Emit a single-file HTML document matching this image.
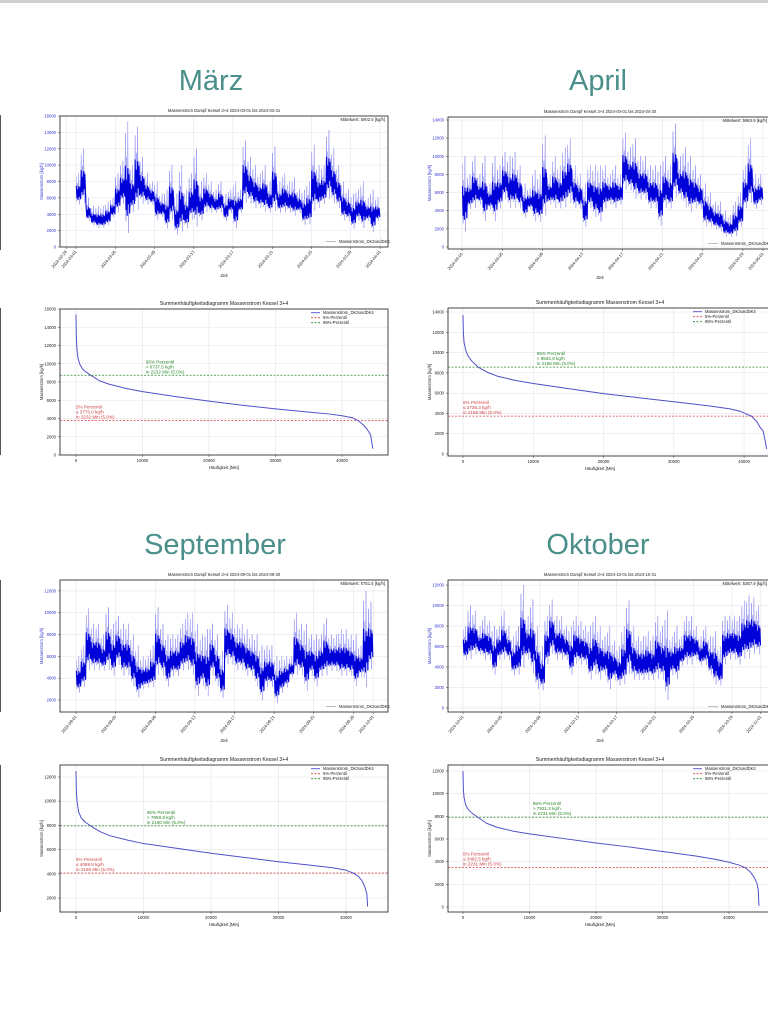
<!DOCTYPE html>
<html><head><meta charset="utf-8">
<style>
html,body{margin:0;padding:0;background:#fff;width:768px;height:1031px;overflow:hidden}
svg{display:block;font-family:"Liberation Sans",sans-serif}
</style></head>
<body>
<svg id="root" width="768" height="1031" viewBox="0 0 768 1031">
<rect x="0" y="0" width="768" height="3" fill="#cfcfcf"/>
<g fill="#4a8f8a" font-size="29" text-anchor="middle">
<text x="211" y="90">März</text>
<text x="598" y="90">April</text>
<text x="215" y="554">September</text>
<text x="598" y="554">Oktober</text>
</g>
<g stroke="#555" stroke-width="1">
<line x1="0.5" y1="115" x2="0.5" y2="250"/>
<line x1="0.5" y1="308" x2="0.5" y2="455"/>
<line x1="0.5" y1="580" x2="0.5" y2="712"/>
<line x1="0.5" y1="765" x2="0.5" y2="912"/>
</g>
</svg>
<script>
// ---- time series data (half-day bins, thousands kg/h) ----
const marHi=[9,12,6,5,5,5,5.5,6,9,10.5,15.3,10,14.7,11,9,8,8,6.5,7,10,6.5,10,7,9,12,8,9,8,7,8,6.5,7,8,7,13,11,10,9,10,8,12.3,8,9,8,8.5,7,7,8,12.5,10,10,14.3,12,10,8,7,6.5,7,8,6,7,6];
const marLo=[5,5,3,2.5,2.2,2.2,2.5,3.5,4,5,1,4,4,5,5,5,3,3.5,2,3,1.3,1.5,2,3,2,3,4,4,4,4,3,4,2,4,5,5,4.5,4.5,4,4,4,4,4,4,3.5,4,2.5,2.5,4,4.5,5,5.5,5,4.5,3,3,2,3,2,3,1.5,3];
const aprHi=[10,8,10,8,10,7,10,9,10.5,10,10.5,9,7,6.5,8.5,8,12.3,8,10,9,11,12,9,8,7,9,9,9,9,8,9,8,12.6,11,12,10,10,9,9,9,10,9,13.6,10,11,10,9,8,7,6,5,5,4,3.5,5,6,9,12,8,8];
const aprLo=[1.3,4,4,4.5,2.5,4,2.5,4,5,4,4,4,3,4,2.5,2.5,3,4.5,4,4,4,4.5,4,4,2,4,3,2.5,4,4.5,4,4.5,6,6,5,5,5,4,4,2,4,4,5,5,4,3.5,4,4,2,2,1.8,1.5,1,1,1,2,4,4.5,4,4.5];
const sepHi=[6,7,10.4,9,9,8,10.5,9,9.7,9,9,8,7,6,6,7,10.5,9,8,8,8,9,10,10,9,8,8.5,9,8,6.5,10.7,10,9,9,8.5,8,8,7,7,7,6,6,6,6,10,9,9,8,8,8,9.5,8,8,8.5,8.5,8,8,7,12,11];
const sepLo=[2.5,3,4.5,4.5,4.5,4.5,4.5,4,5,4,4,3,2,2.8,3,3,4,4,3,4,4,4.5,4.5,4,2,3,2,4,3,2,5,5,4.5,4.5,4,4,3,1.7,3,3,1.5,2.5,3,4,4,4,2.5,4,3,4,4,4.5,4.5,4,4,4,3,4,2.7,4.5];
const octHi=[8,10,9.5,8,9,8.5,8,8,9.5,8,7,8,12,9,10.6,8,6,9,10.6,9,9,8,8,9,8.5,8,8,9,8,7,8,6.5,6,8,10.5,8,7,7,7.5,7,9,8,9.5,7,8,7,9,9,8,7,8,7,7.5,6,9,9,9,9,10.5,11,10.8,10];
const octLo=[4.5,4.5,5,5,4.5,4.5,3,4.5,4.5,4.5,3,3,3.5,4.5,3,1.5,1.5,4,5,4.5,4.5,4.5,3,4,4,4,2.5,3,2.5,3,1.5,2.5,2,2,3,2.5,2.5,2.5,2.5,2.5,2.5,2.5,0.3,3,2.5,4,4,4,4.5,4,4,3,2,2,4,4.5,4.5,4,4.5,4.5,5,5];
const marMean="5902.5", aprMean="5963.9", sepMean="5751.5", octMean="5367.9";
const marDates=["2024-02-29","2024-03-01","2024-03-05","2024-03-09","2024-03-13","2024-03-17","2024-03-21","2024-03-25","2024-03-29","2024-04-01"];
const marDateDays=[-1,0,4,8,12,16,20,24,28,31];
const aprDates=["2024-04-01","2024-04-05","2024-04-09","2024-04-13","2024-04-17","2024-04-21","2024-04-25","2024-04-29","2024-05-01"];
const aprDateDays=[0,4,8,12,16,20,24,28,30];
const sepDates=["2024-09-01","2024-09-05","2024-09-09","2024-09-13","2024-09-17","2024-09-21","2024-09-25","2024-09-29","2024-10-01"];
const sepDateDays=[0,4,8,12,16,20,24,28,30];
const octDates=["2024-10-01","2024-10-05","2024-10-09","2024-10-13","2024-10-17","2024-10-21","2024-10-25","2024-10-29","2024-11-01"];
const octDateDays=[0,4,8,12,16,20,24,28,31];
const marYTicks=[0,2000,4000,6000,8000,10000,12000,14000,16000];
const aprYTicks=[0,2000,4000,6000,8000,10000,12000,14000];
const sepYTicks=[2000,4000,6000,8000,10000,12000];
const octYTicks=[0,2000,4000,6000,8000,10000,12000];
// ---- duration curve data ----
const marDurX=[0,50,150,300,600,1000,1500,2232,3500,5000,7500,10000,15000,20000,25000,30000,35000,38000,40000,41500,42412,43200,43800,44300,44640];
const marDurY=[15400,13000,11500,10600,9900,9400,9100,8737,8150,7750,7300,6950,6400,5900,5450,5050,4700,4500,4300,4100,3770,3300,2800,2200,700];
const aprDurX=[0,50,150,400,700,1200,2158,3500,5000,7500,10000,15000,20000,25000,30000,35000,38000,39500,40300,41050,41800,42300,42700,43000,43200];
const aprDurY=[13700,12000,11000,10200,9700,9200,8562,8050,7650,7250,6950,6450,5950,5550,5150,4750,4450,4200,3950,3736,3200,2600,2300,1300,500];
const sepDurX=[0,50,150,400,800,1300,2160,3500,5000,7500,10000,15000,20000,25000,30000,35000,38000,40000,41040,41800,42400,42800,43100,43200];
const sepDurY=[12500,11000,10000,9100,8600,8300,7959,7500,7150,6800,6500,6100,5700,5350,5000,4700,4500,4300,4069,3800,3400,2900,2300,1300];
const octDurX=[0,50,150,400,800,1300,2231,3500,5000,7500,10000,15000,20000,25000,30000,35000,38000,40000,41500,42400,43200,43800,44200,44400,44500];
const octDurY=[12000,10500,9700,9000,8600,8300,7921,7400,7050,6700,6450,6050,5650,5300,4900,4500,4200,3950,3700,3482,3100,2600,2100,1500,100];
const marP=[3770.0,8737.5,2232], aprP=[3736.3,8562.8,2158], sepP=[4068.8,7958.8,2160], octP=[3482.5,7921.3,2231];
const durXTicks=[0,10000,20000,30000,40000];

const NS="http://www.w3.org/2000/svg";
const root=document.getElementById('root');
function mk(tag,attrs,parent,text){const e=document.createElementNS(NS,tag);for(const k in attrs)e.setAttribute(k,attrs[k]);if(text!==undefined)e.textContent=text;(parent||root).appendChild(e);return e;}
let clipId=0;
function frame(b,title,yTicks,sy,xTicks,sx,xLabels,rotate,yLabel,xLabel,yColor){
  const g=mk('g',{});
  
  
  const id='c'+(clipId++);
  const cp=mk('clipPath',{id:id},g);mk('rect',{x:b[0],y:b[1],width:b[2]-b[0],height:b[3]-b[1]},cp);
  const t=mk('text',{x:(b[0]+Math.min(b[2],768))/2+(b[2]>768?-8:0),y:b[1]-4,'font-size':rotate?4.2:5.2,'text-anchor':'middle',fill:'#222'},g,title);
  
  
  yTicks.forEach(v=>{const y=sy(v);
    mk('line',{x1:b[0],x2:b[2],y1:y,y2:y,stroke:'#e3e3ee','stroke-width':0.6},g);
    mk('line',{x1:b[0]-2,x2:b[0],y1:y,y2:y,stroke:'#333','stroke-width':0.5},g);
    const tl=mk('text',{x:b[0]-4,y:y+1.5,'font-size':4.2,'text-anchor':'end',fill:yColor},g,String(v));
    
    
  });
  xTicks.forEach((v,i)=>{const x=sx(v);if(x>768)return;
    mk('line',{x1:x,x2:x,y1:b[1],y2:b[3],stroke:'#e3e3ee','stroke-width':0.6},g);
    mk('line',{x1:x,x2:x,y1:b[3],y2:b[3]+2,stroke:'#333','stroke-width':0.5},g);
    let tl;
    if(rotate){tl=mk('text',{x:x+1,y:b[3]+5,'font-size':4.2,'text-anchor':'end',fill:'#222',transform:`rotate(-50 ${x+1} ${b[3]+5})`},g,xLabels[i]);}
    else{tl=mk('text',{x:x,y:b[3]+7,'font-size':4.2,'text-anchor':'middle',fill:'#222'},g,xLabels[i]);}
    
    
  });
  const yl=mk('text',{x:0,y:0,'font-size':4.2,'text-anchor':'middle',fill:yColor,transform:`translate(${b[0]-17},${(b[1]+b[3])/2}) rotate(-90)`},g,yLabel);
  
  
  const xl=mk('text',{x:(b[0]+Math.min(b[2],768))/2+(b[2]>768?-8:0),y:b[3]+(rotate?30:14),'font-size':4.4,'text-anchor':'middle',fill:'#222'},g,xLabel);
  
  
  return {g:g,clip:`url(#${id})`};
}
function border(g,b){const r=mk('rect',{x:b[0],y:b[1],width:b[2]-b[0],height:b[3]-b[1],fill:'none',stroke:'#333','stroke-width':0.9},g);
  
  }

const osc=[0.9,0.15,0.7,0.3,1.0,0.05,0.6,0.4];
const core=[0.62,0.25,0.5,0.2,0.6,0.3,0.55,0.22];
function tsChart(b,xd,yd,hi,lo,title,yTicks,dates,dateDays,mean){
  const sx=d=>b[0]+(d-xd[0])/(xd[1]-xd[0])*(b[2]-b[0]);
  const sy=v=>b[3]-(v-yd[0])/(yd[1]-yd[0])*(b[3]-b[1]);
  const f=frame(b,title,yTicks,sy,dateDays,sx,dates,true,'Massenstrom [kg/h]','Zeit','#3333cc');
  const dg=mk('g',{'clip-path':f.clip},f.g);
  
  
  const n=hi.length;const step=0.5;
  let lp=[],cp=[];
  for(let i=0;i<n;i++){
    const h=hi[i]*1000,l=lo[i]*1000;
    for(let k=0;k<8;k++){
      const x=sx(i*step+step*(k+0.5)/8);
      lp.push(x.toFixed(2)+','+sy(l+(h-l)*osc[k]).toFixed(2));
      cp.push(x.toFixed(2)+','+sy(l+(h-l)*core[k]).toFixed(2));
    }
  }
  const pl1=mk('polyline',{points:lp.join(' '),fill:'none',stroke:'#8080ee','stroke-width':0.45,'stroke-linejoin':'round'},dg);
  
  
  const pl2=mk('polyline',{points:cp.join(' '),fill:'none',stroke:'#0000d8','stroke-width':1.1,'stroke-linejoin':'round'},dg);
  
  
  border(f.g,b);
  const right=Math.min(b[2],770);
  const mt=mk('text',{x:right-3,y:b[1]+5,'font-size':4.2,'text-anchor':'end',fill:'#222'},f.g,`Mittelwert: ${mean} [kg/h]`);
  
  
  mk('line',{x1:right-62,x2:right-52,y1:b[3]-5.5,y2:b[3]-5.5,stroke:'#aab','stroke-width':0.8},f.g);
  const lg=mk('text',{x:right-49,y:b[3]-4,'font-size':4.2,fill:'#222'},f.g,'Massenstrom_DK3undDK4');
  
  
}
function durChart(b,xd,yd,xs,ys,p,yTicks){
  const sx=v=>b[0]+(v-xd[0])/(xd[1]-xd[0])*(b[2]-b[0]);
  const sy=v=>b[3]-(v-yd[0])/(yd[1]-yd[0])*(b[3]-b[1]);
  const f=frame(b,'Summenhäufigkeitsdiagramm Massenstrom Kessel 3+4',yTicks,sy,durXTicks,sx,durXTicks.map(String),false,'Massenstrom [kg/h]','Häufigkeit [Min]','#222');
  const dg=mk('g',{'clip-path':f.clip},f.g);
  const l5=mk('line',{x1:b[0],x2:b[2],y1:sy(p[0]),y2:sy(p[0]),stroke:'#d04040','stroke-width':0.8,'stroke-dasharray':'2,1.5'},dg);
  
  
  const l95=mk('line',{x1:b[0],x2:b[2],y1:sy(p[1]),y2:sy(p[1]),stroke:'#2a8a2a','stroke-width':0.8,'stroke-dasharray':'2,1.5'},dg);
  
  
  const pl=mk('polyline',{points:xs.map((x,i)=>sx(x)+','+sy(ys[i])).join(' '),fill:'none',stroke:'#5050c8','stroke-width':1,'stroke-linejoin':'round'},dg);
  
  
  const gt=mk('text',{x:sx(10500),y:sy(p[1])-12,'font-size':4.6,fill:'#2a8a2a'},f.g);
  
  
  ['95% Perzentil',`> ${p[1].toFixed(1)} kg/h`,`in ${p[2]} Min (5.0%)`].forEach((s,i)=>mk('tspan',{x:sx(10500),dy:i?5:0},gt,s));
  const rt=mk('text',{x:sx(0),y:sy(p[0])-12,'font-size':4.6,fill:'#d04040'},f.g);
  
  
  ['5% Perzentil',`≤ ${p[0].toFixed(1)} kg/h`,`in ${p[2]} Min (5.0%)`].forEach((s,i)=>mk('tspan',{x:sx(0),dy:i?5:0},rt,s));
  border(f.g,b);
  const right=Math.min(b[2],770);
  const items=[['Massenstrom_DK3undDK4','#5050c8',null],['5%-Perzentil','#d04040','2,1.5'],['95%-Perzentil','#2a8a2a','2,1.5']];
  items.forEach((it,i)=>{const y=b[1]+5+i*5;
    const a={x1:right-77,x2:right-68,y1:y-1.3,y2:y-1.3,stroke:it[1],'stroke-width':0.9};if(it[2])a['stroke-dasharray']=it[2];
    mk('line',a,f.g);
    const t=mk('text',{x:right-65,y:y,'font-size':4.2,fill:'#222'},f.g,it[0]);
    
    
  });
}
tsChart([60,116,388,247],[-1.63,31.8],[0,16000],marHi,marLo,'Massenstrom Dampf Kessel 3+4 2024-03-01 bis 2024-03-31',marYTicks,marDates,marDateDays,marMean);
tsChart([448,117,780,249],[-1.41,31.7],[-220,14330],aprHi,aprLo,'Massenstrom Dampf Kessel 3+4 2024-04-01 bis 2024-04-30',aprYTicks,aprDates,aprDateDays,aprMean);
tsChart([60,580,388,712],[-1.62,31.5],[900,13000],sepHi,sepLo,'Massenstrom Dampf Kessel 3+4 2024-09-01 bis 2024-09-30',sepYTicks,sepDates,sepDateDays,sepMean);
tsChart([448,580,780,712],[-1.56,33],[-400,12500],octHi,octLo,'Massenstrom Dampf Kessel 3+4 2024-10-01 bis 2024-10-31',octYTicks,octDates,octDateDays,octMean);
durChart([60,309,388,455],[-2406,46917],[0,16000],marDurX,marDurY,marP,marYTicks);
durChart([448,308,780,456],[-2135,45110],[-197,14394],aprDurX,aprDurY,aprP,aprYTicks);
durChart([60,765,388,912],[-2370,46222],[843,12992],sepDurX,sepDurY,sepP,sepYTicks);
durChart([448,765,780,912],[-2256,47670],[-441,12530],octDurX,octDurY,octP,octYTicks);
</script>
</body></html>
